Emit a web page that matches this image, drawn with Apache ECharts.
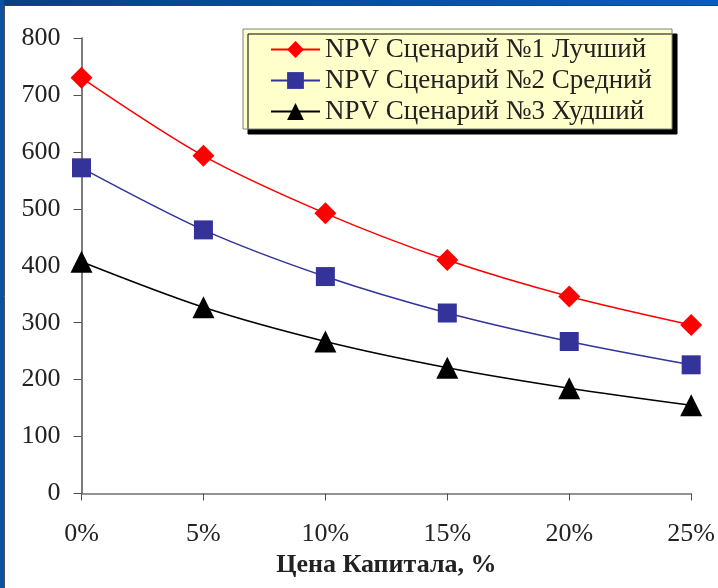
<!DOCTYPE html>
<html>
<head>
<meta charset="utf-8">
<script src="https://cdn.jsdelivr.net/npm/echarts@6/dist/echarts.min.js"></script>
<style>
html,body{margin:0;padding:0;background:#fff;}
#c{width:718px;height:588px;}
</style>
</head>
<body>
<div id="c"></div>
<script>
const categories = ['0%', '5%', '10%', '15%', '20%', '25%'];
const seriesNames = ['NPV Сценарий №1 Лучший', 'NPV Сценарий №2 Средний', 'NPV Сценарий №3 Худший'];
const bestValues = [730, 593, 492, 410, 346, 296];
const midValues = [572, 463, 381, 317, 267, 226];
const worstValues = [407, 327, 267, 221, 185, 155];
const yTicks = [0, 100, 200, 300, 400, 500, 600, 700, 800];
const xAxisTitle = 'Цена Капитала, %';

const font = "'Liberation Serif', 'Times New Roman', serif";
const chart = echarts.init(document.getElementById('c'));
chart.setOption({
  animation: false,
  backgroundColor: '#ffffff',
  graphic: [
    { type: 'rect', shape: { x: 0, y: 0, width: 718, height: 5 }, style: { fill: new echarts.graphic.LinearGradient(0, 0, 1, 0, [{ offset: 0, color: '#0a3f82' }, { offset: 1, color: '#0a5cc0' }]) }, z: 100 },
    { type: 'rect', shape: { x: 0, y: 0, width: 4, height: 588 }, style: { fill: '#0b52a4' }, z: 100 },
    { type: 'line', shape: { x1: 4.5, y1: 5, x2: 4.5, y2: 588 }, style: { stroke: '#505050', lineWidth: 1 }, z: 100 },
    { type: 'line', shape: { x1: 4, y1: 5.5, x2: 718, y2: 5.5 }, style: { stroke: '#404040', lineWidth: 1 }, z: 100 }
  ],
  grid: { left: 81.5, right: 24.5, top: 38, bottom: 94.5, containLabel: false },
  legend: {
    orient: 'vertical',
    left: 243,
    top: 29,
    data: seriesNames,
    backgroundColor: '#ffffcc',
    borderColor: '#808080',
    borderWidth: 1,
    borderRadius: 0,
    shadowColor: '#000000',
    shadowBlur: 0,
    shadowOffsetX: 5,
    shadowOffsetY: 5,
    padding: [7, 20, 4, 27],
    itemWidth: 49,
    itemHeight: 21,
    itemGap: 4,
    textStyle: { fontFamily: font, fontSize: 27, color: '#222222', lineHeight: 21 }
  },
  xAxis: {
    type: 'category',
    data: categories,
    boundaryGap: false,
    name: xAxisTitle,
    nameLocation: 'middle',
    nameGap: 58,
    nameTextStyle: { fontFamily: font, fontSize: 26, fontWeight: 'bold', color: '#222222' },
    axisLine: { lineStyle: { color: '#707070', width: 1.5 } },
    axisTick: { alignWithLabel: true, length: 7, lineStyle: { color: '#505050' } },
    axisLabel: { fontFamily: font, fontSize: 26, color: '#222222', margin: 28 },
    splitLine: { show: false }
  },
  yAxis: {
    type: 'value',
    min: yTicks[0],
    max: yTicks[yTicks.length - 1],
    interval: 100,
    axisLine: { show: true, lineStyle: { color: '#505050', width: 1.5 } },
    axisTick: { show: true, length: 8, lineStyle: { color: '#505050' } },
    axisLabel: { fontFamily: font, fontSize: 26, color: '#222222', margin: 21 },
    splitLine: { show: false }
  },
  series: [
    {
      name: seriesNames[0], type: 'line', data: bestValues, smooth: 0.3,
      symbol: 'diamond', symbolSize: 22,
      lineStyle: { color: '#ff0000', width: 1.5 },
      itemStyle: { color: '#ff0000' }
    },
    {
      name: seriesNames[1], type: 'line', data: midValues, smooth: 0.3,
      symbol: 'rect', symbolSize: 19,
      lineStyle: { color: '#333399', width: 1.5 },
      itemStyle: { color: '#333399' }
    },
    {
      name: seriesNames[2], type: 'line', data: worstValues, smooth: 0.3,
      symbol: 'triangle', symbolSize: 22,
      lineStyle: { color: '#000000', width: 1.5 },
      itemStyle: { color: '#000000' }
    }
  ]
});
</script>
</body>
</html>
